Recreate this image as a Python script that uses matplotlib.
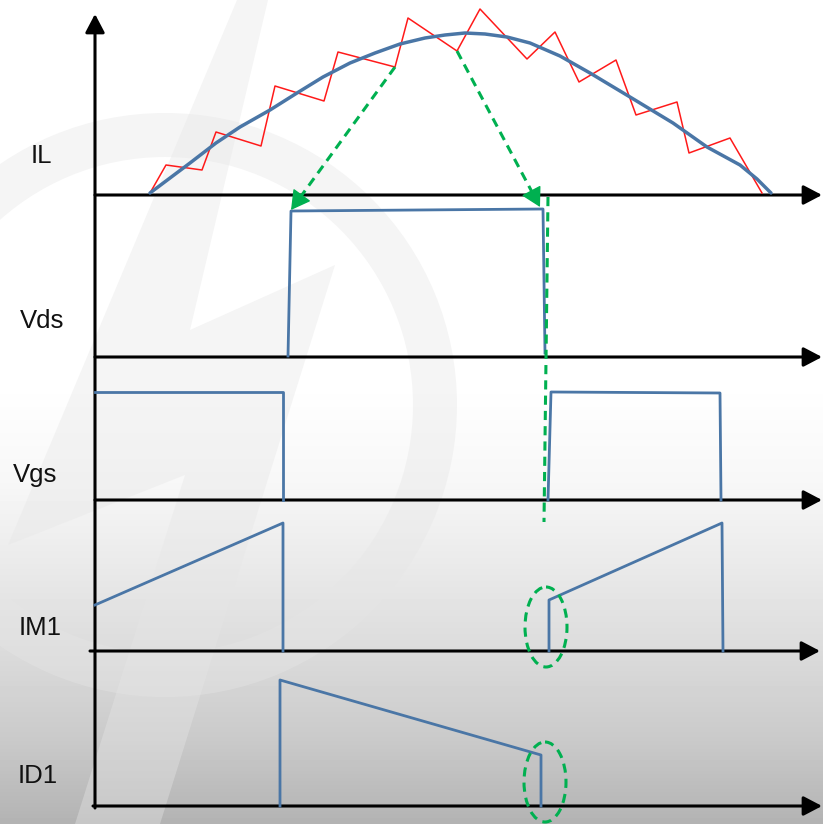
import numpy as np
import matplotlib
matplotlib.use("Agg")
import matplotlib.pyplot as plt
from matplotlib.patches import Ellipse, Wedge, Polygon

# all positions are in picture units (x to the right, y downwards), 823 x 824
W, H = 823, 824

# signal names and label positions (left, baseline)
labels = ["IL", "Vds", "Vgs", "IM1", "ID1"]
label_x = [31, 20, 13, 19, 18]
label_y = [163, 328, 482, 635, 783]

# time axes: start x, end x, level y
axis_x0 = [95, 95, 95, 90, 93]
axis_x1 = [822, 822, 822, 820, 822]
axis_y = [195, 357, 500, 651, 806]

# inductor current, averaged (blue) and with ripple (red)
il_avg_x = [150, 170, 190, 216, 240, 270, 297, 323, 350, 375, 400, 425, 445,
            465, 485, 507, 530, 560, 590, 630, 673, 707, 740, 757, 771]
il_avg_y = [193, 178, 163, 143, 127, 110, 93, 77, 63, 53, 44, 38, 35,
            33, 34, 37, 43, 56, 73, 97, 123, 147, 165, 179, 193]
il_rip_x = [150, 166, 202, 216, 261, 275, 324, 338, 395, 408, 457, 480, 527,
            555, 579, 616, 636, 677, 689, 730, 762]
il_rip_y = [193, 165, 170, 132, 146, 86, 101, 52, 67, 18, 51, 9, 59,
            32, 82, 60, 115, 102, 153, 138, 193]

# Vds
vds_x = [288, 291, 543, 545]
vds_y = [356, 211, 209, 353]

# Vgs, two pulses
vgs1_x = [95, 283, 283]
vgs1_y = [392, 392, 500]
vgs2_x = [548, 551, 720, 721]
vgs2_y = [500, 392, 393, 500]

# IM1, two ramps
im1a_x = [95, 283, 283]
im1a_y = [605, 523, 651]
im1b_x = [549, 549, 722, 723]
im1b_y = [651, 600, 523, 651]

# ID1
id1_x = [280, 280, 541, 541]
id1_y = [806, 680, 755, 806]

# green annotation: arrows (start -> tip), vertical guide, ellipses
garrow_start = [(395, 67), (457, 51)]
garrow_tip = [(291, 210), (540, 207)]
guide_x = [548, 544]
guide_y = [197, 522]
ell_cx = [546, 545]
ell_cy = [627, 782]

BLUE = "#4a76a6"
RED = "#ff1a1a"
GREEN = "#00b050"
DASH = (0, (3, 2))

fig = plt.figure(figsize=(W / 100, H / 100), dpi=100)
ax = fig.add_axes([0, 0, 1, 1])
ax.set_xlim(0, W)
ax.set_ylim(H, 0)
ax.axis("off")

# background: white top, fading to grey at the bottom
rows = np.arange(H)
shade = np.interp(rows, [0, 380, 480, 560, 650, 740, 824],
                  [1.0, 1.0, 0.97, 0.92, 0.86, 0.79, 0.70])
bg = np.repeat(shade[:, None], 2, axis=1)
ax.imshow(bg, cmap="gray", vmin=0, vmax=1, extent=[0, W, H, 0],
          aspect="auto", zorder=0)

# faint logo watermark
ax.add_patch(Wedge((165, 405), 292, 0, 360, width=44, facecolor="#e6e6e6",
                   edgecolor="none", alpha=0.4, zorder=1))
ax.add_patch(Polygon([(237, 0), (268, 0), (190, 330), (335, 265), (160, 824),
                      (75, 824), (185, 475), (8, 545)], closed=True,
                     facecolor="#e6e6e6", edgecolor="none", alpha=0.4, zorder=1))

# axes with arrow heads
head = "-|>,head_length=0.8,head_width=0.42"
ax.annotate("", xy=(95, 14), xytext=(95, 808),
            arrowprops=dict(arrowstyle=head, mutation_scale=14, lw=2.2,
                            color="black", shrinkA=0, shrinkB=0), zorder=3)
for x0, x1, y in zip(axis_x0, axis_x1, axis_y):
    ax.annotate("", xy=(x1, y), xytext=(x0, y),
                arrowprops=dict(arrowstyle=head, mutation_scale=14, lw=2.2,
                                color="black", shrinkA=0, shrinkB=0), zorder=3)

for name, lx, ly in zip(labels, label_x, label_y):
    ax.text(lx, ly, name, fontsize=18.5, family="Liberation Sans",
            ha="left", va="baseline", color="#111111", zorder=5)

# waveforms
ax.plot(il_rip_x, il_rip_y, color=RED, lw=1.1, zorder=4)
ax.plot(il_avg_x, il_avg_y, color=BLUE, lw=2.5, zorder=4,
        solid_capstyle="round", solid_joinstyle="round")
for xs, ys in [(vds_x, vds_y), (vgs1_x, vgs1_y), (vgs2_x, vgs2_y),
               (im1a_x, im1a_y), (im1b_x, im1b_y), (id1_x, id1_y)]:
    ax.plot(xs, ys, color=BLUE, lw=2.0, zorder=4)

# green dashed arrows: dashed shaft plus a solid head
for (sx, sy), (tx, ty) in zip(garrow_start, garrow_tip):
    d = np.array([tx - sx, ty - sy], dtype=float)
    d /= np.hypot(*d)
    bx, by = tx - 15 * d[0], ty - 15 * d[1]
    ax.plot([sx, bx], [sy, by], color=GREEN, lw=2.2, ls=DASH, zorder=6)
    ax.annotate("", xy=(tx, ty), xytext=(bx - 2 * d[0], by - 2 * d[1]),
                arrowprops=dict(arrowstyle="-|>,head_length=0.8,head_width=0.45",
                                mutation_scale=15, lw=1.0, color=GREEN,
                                shrinkA=0, shrinkB=0), zorder=6)
ax.plot(guide_x, guide_y, color=GREEN, lw=2.2, ls=DASH, zorder=6)
for cx, cy in zip(ell_cx, ell_cy):
    ax.add_patch(Ellipse((cx, cy), 42, 80, fill=False, edgecolor=GREEN,
                         lw=2.2, ls=DASH, zorder=6))

fig.savefig("out.png", dpi=100)
